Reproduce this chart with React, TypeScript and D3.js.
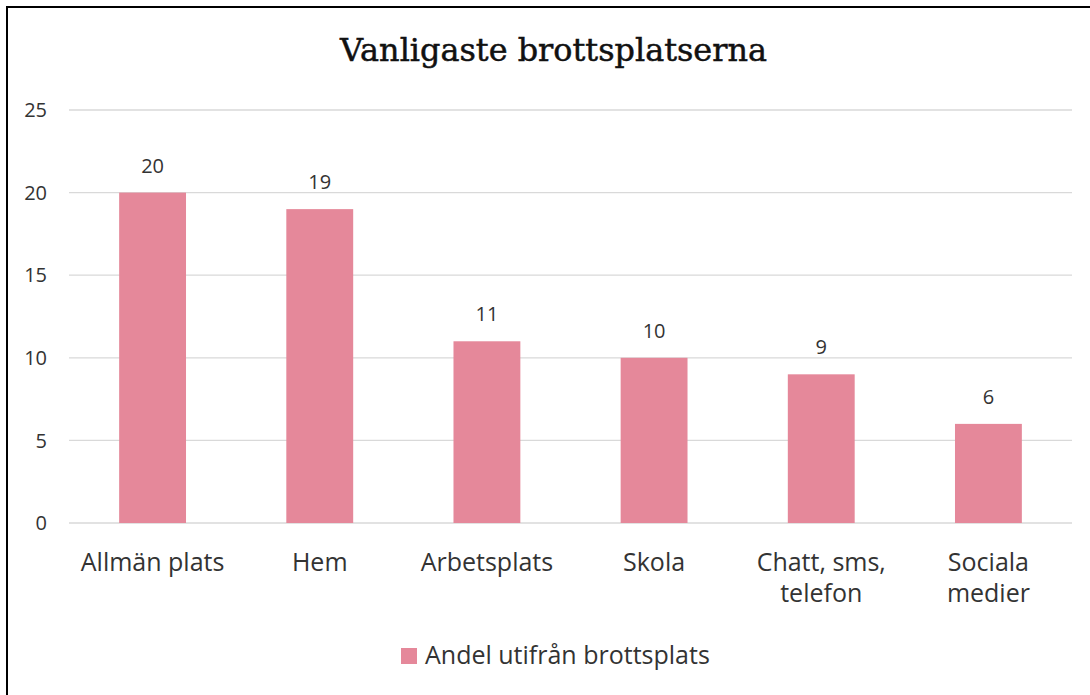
import React from "react";
import * as d3 from "d3";

const categories: string[][] = [
  ["Allmän plats"],
  ["Hem"],
  ["Arbetsplats"],
  ["Skola"],
  ["Chatt, sms,", "telefon"],
  ["Sociala", "medier"],
];
const values: number[] = [20, 19, 11, 10, 9, 6];
const yTicks: number[] = [0, 5, 10, 15, 20, 25];
const title = "Vanligaste brottsplatserna";
const seriesName = "Andel utifrån brottsplats";

const W = 1090;
const H = 695;
const plot = { left: 69, right: 1072, top: 110, bottom: 523 };
const barColor = "#E5889A";
const textColor = "#333333";
const font = "'Open Sans', 'Noto Sans', sans-serif";

export default function App() {
  const x = d3
    .scaleBand<number>()
    .domain(values.map((_, i) => i))
    .range([plot.left, plot.right])
    .paddingInner(0.6)
    .paddingOuter(0.3);
  const y = d3.scaleLinear().domain([0, 25]).range([plot.bottom, plot.top]);

  return (
    <svg
      width={W}
      height={H}
      style={{ position: "absolute", left: 0, top: 0, display: "block", overflow: "hidden" }}
    >
      <rect x={0} y={0} width={W} height={H} fill="#fff" />
      <path d={`M7,${H} V7 H${W}`} fill="none" stroke="#000" strokeWidth={2} />
      <text
        x={553.5}
        y={61}
        textAnchor="middle"
        fontFamily="'DejaVu Serif', serif"
        fontSize={32}
        textLength={427}
        lengthAdjust="spacingAndGlyphs"
        fill="#111"
        stroke="#111"
        strokeWidth={0.5}
      >
        {title}
      </text>
      {yTicks.map((t) => (
        <g key={t}>
          <line
            x1={plot.left}
            x2={plot.right}
            y1={y(t)}
            y2={y(t)}
            stroke="#d9d9d9"
            strokeWidth={1.3}
          />
          <text
            x={47}
            y={y(t)}
            dy="0.36em"
            textAnchor="end"
            fontFamily={font}
            fontSize={20}
            fill={textColor}
          >
            {t}
          </text>
        </g>
      ))}
      {values.map((v, i) => (
        <g key={i}>
          <rect
            x={x(i)}
            y={y(v)}
            width={x.bandwidth()}
            height={y(0) - y(v)}
            fill={barColor}
          />
          <text
            x={(x(i) as number) + x.bandwidth() / 2}
            y={y(v) - 20}
            textAnchor="middle"
            fontFamily={font}
            fontSize={20}
            fill={textColor}
          >
            {v}
          </text>
          {categories[i].map((line, j) => (
            <text
              key={j}
              x={(x(i) as number) + x.bandwidth() / 2}
              y={571 + j * 31}
              textAnchor="middle"
              fontFamily={font}
              fontSize={25}
              fill={textColor}
            >
              {line}
            </text>
          ))}
        </g>
      ))}
      <rect x={401} y={648} width={16} height={16} fill={barColor} />
      <text x={425} y={664} fontFamily={font} fontSize={25} fill={textColor}>
        {seriesName}
      </text>
    </svg>
  );
}
